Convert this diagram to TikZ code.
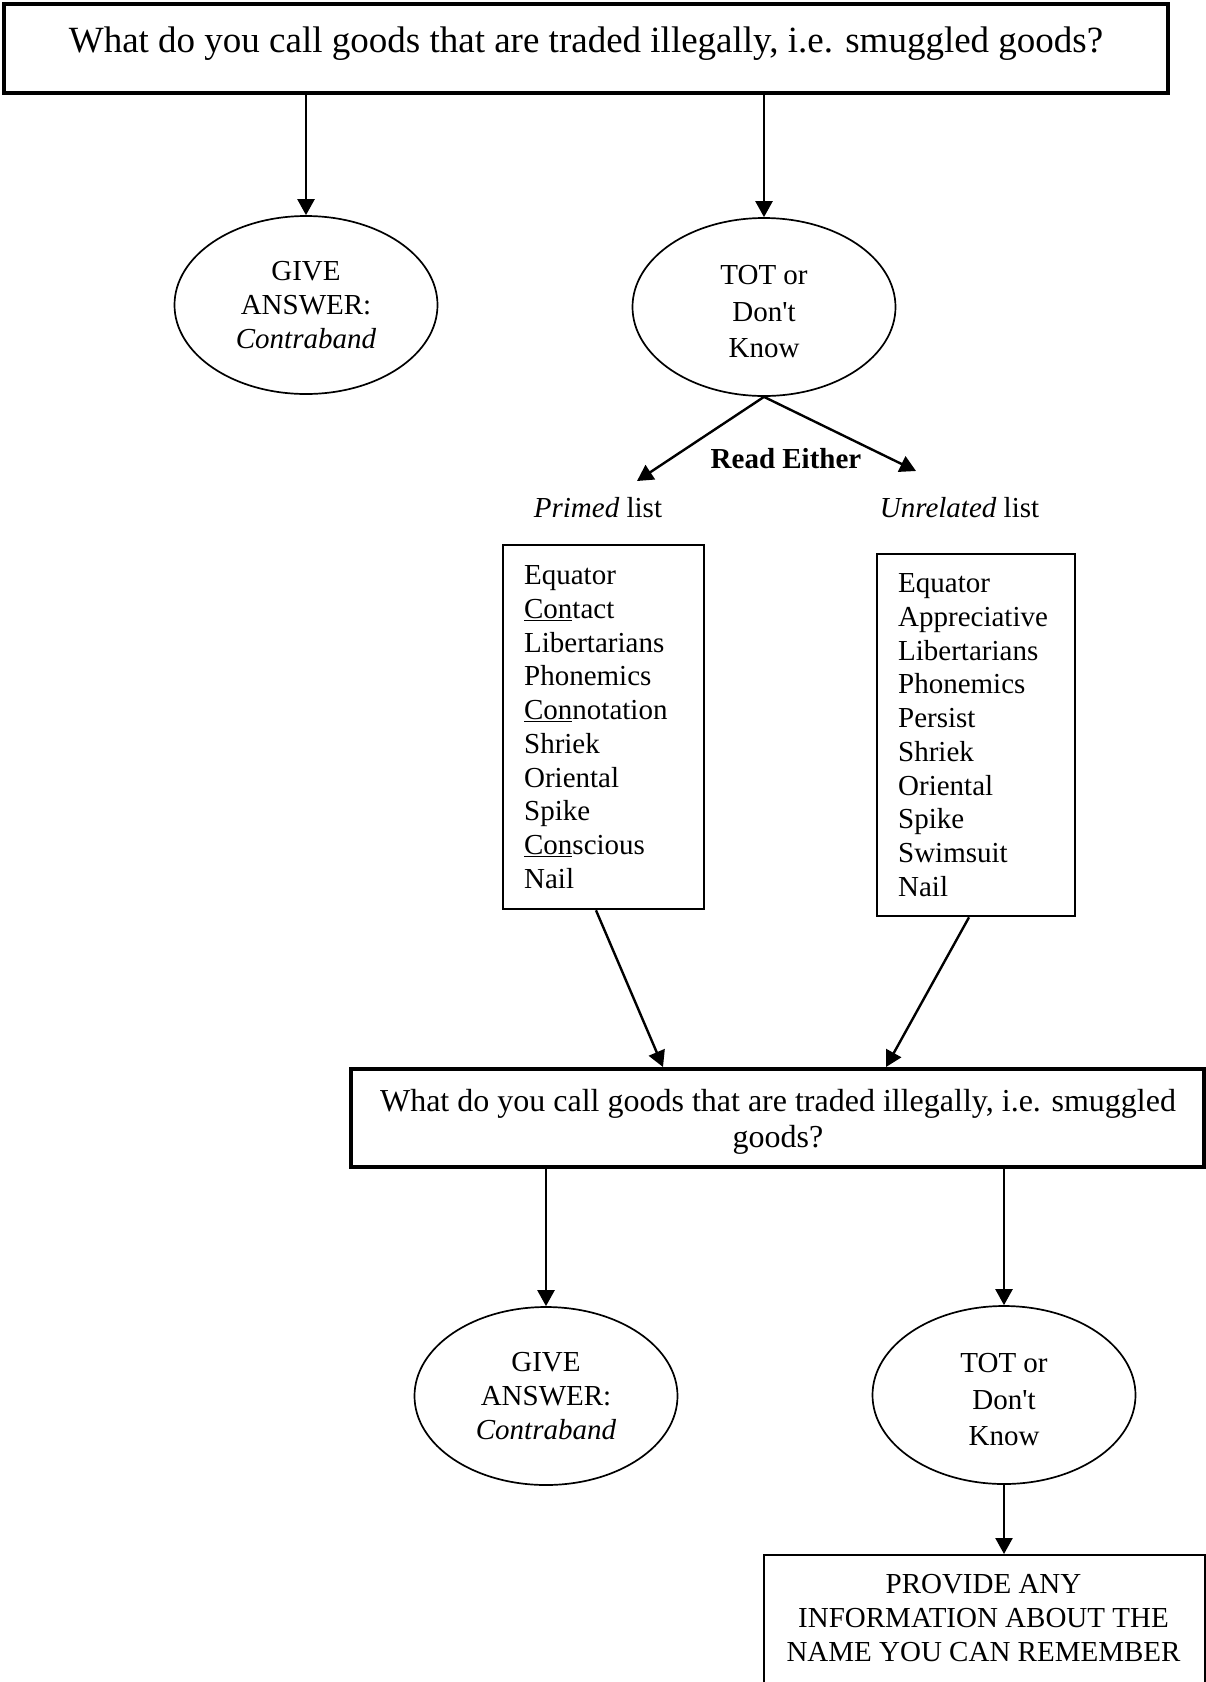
\documentclass[tikz,border=0pt]{standalone}
\usepackage{fontspec}
\setmainfont{Liberation Serif}
\usetikzlibrary{arrows.meta,shapes.geometric,calc}
\newcommand{\sq}{\textquotesingle}
\begin{document}
\begin{tikzpicture}[x=1pt,y=-1pt,
  txt/.style={font=\fontsize{29}{34}\selectfont, inner sep=0pt},
  oval/.style={ellipse, draw, line width=1.7pt, minimum width=263pt, minimum height=178pt,
    inner sep=0pt, align=center, font=\fontsize{29}{34}\selectfont},
  ovaltot/.style={oval, font=\fontsize{29}{36.5}\selectfont},
  listbox/.style={draw, line width=2.3pt, align=left, inner xsep=21pt, inner ysep=0pt,
    anchor=north west, font=\fontsize{29}{33.7}\selectfont},
  arr/.style={line width=2.4pt, -{Triangle[length=16pt,width=17pt]}},
  qbox/.style={draw, line width=4pt, inner sep=0pt}]
\useasboundingbox (0,0) rectangle (1206,1682);
\clip (0,0) rectangle (1206,1682);

% top question
\node[qbox, minimum width=1164pt, minimum height=89pt] (q1) at (586,48.5) {};
\node[font=\fontsize{37}{42}\selectfont, inner sep=0pt, anchor=base] (q1t) at (586,52)
  {What do you call goods that are traded illegally, i.e. smuggled goods?};

% first ellipses
\node[oval] (e1) at (306,305) {GIVE\\ANSWER:\\\textit{Contraband}};
\node[ovaltot] (e2) at (764,307) {};
\node[txt, align=center, font=\fontsize{29}{36.5}\selectfont] (e2t) at (764,312) {TOT or\\Don\sq t\\Know};
\draw[arr] (q1.south -| e1) -- (e1.north);
\draw[arr] (q1.south -| e2) -- (e2.north);

% read either
\coordinate (la) at (637,481);
\coordinate (ra) at (916,471);
\draw[arr] (e2.south) -- (la);
\draw[arr] (e2.south) -- (ra);
\node[txt, font=\fontsize{29}{34}\selectfont\bfseries] (re) at (786,459) {Read Either};
\node[txt] (lp) at (598,508) {\textit{Primed} list};
\node[txt] (lu) at (959.5,508) {\textit{Unrelated} list};

% lists
\node[listbox, text width=159pt, minimum height=364pt] (pl) at (502,544)
  {Equator\\\underline{Con}tact\\Libertarians\\Phonemics\\\underline{Con}notation\\Shriek\\Oriental\\Spike\\\underline{Con}scious\\Nail};
\node[listbox, text width=156pt, minimum height=362pt] (pr) at (876,553)
  {Equator\\Appreciative\\Libertarians\\Phonemics\\Persist\\Shriek\\Oriental\\Spike\\Swimsuit\\Nail};

% second question
\node[qbox, minimum width=853pt, minimum height=98pt] (q2) at (777.5,1118) {};
\node[txt, align=center, font=\fontsize{32}{36.5}\selectfont] (q2t) at (778,1122)
  {What do you call goods that are traded illegally, i.e. smuggled\\goods?};
\draw[arr] ($(pl.south west)+(94,0)$) -- ($(q2.north west)+(314,0)$);
\draw[arr] ($(pr.south west)+(93,0)$) -- ($(q2.north west)+(537,0)$);

% second ellipses
\node[oval] (e3) at (546,1396) {GIVE\\ANSWER:\\\textit{Contraband}};
\node[ovaltot] (e4) at (1004,1395) {};
\node[txt, align=center, font=\fontsize{29}{36.5}\selectfont] (e4t) at (1004,1400) {TOT or\\Don\sq t\\Know};
\draw[arr] (q2.south -| e3) -- (e3.north);
\draw[arr] (q2.south -| e4) -- (e4.north);

% final box
\node[draw, line width=2.3pt, anchor=north west, minimum width=441pt, minimum height=180pt,
  inner sep=0pt] (p) at (763,1554) {};
\node[txt, align=center] (pt) at (983.5,1618)
  {PROVIDE ANY\\INFORMATION ABOUT THE\\NAME YOU CAN REMEMBER};
\draw[arr] (e4.south) -- (p.north -| e4);
\end{tikzpicture}
\end{document}
